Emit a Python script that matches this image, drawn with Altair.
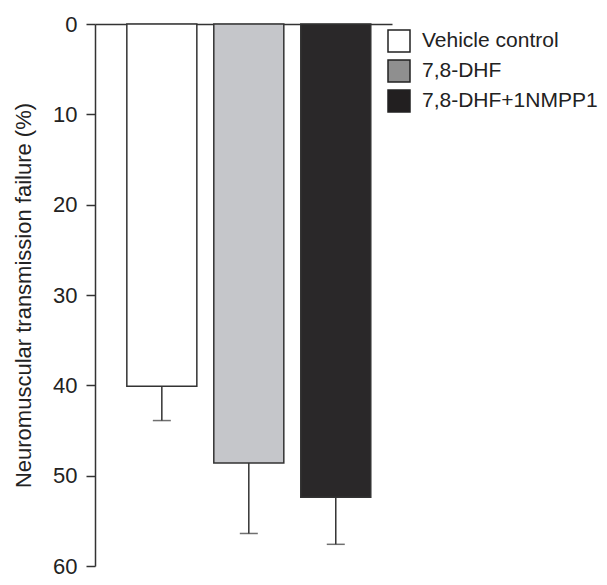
import altair as alt
import pandas as pd

groups = ["Vehicle control", "7,8-DHF", "7,8-DHF+1NMPP1"]
means = [40.1, 48.6, 52.4]
err_top = [43.9, 56.4, 57.6]

bar_fills = ["#ffffff", "#c5c6ca", "#2a2829"]
legend_fills = ["#ffffff", "#8f8f8f", "#221f20"]

df = pd.DataFrame({
    "group": groups,
    "mean": means,
    "err": err_top,
    "fillc": bar_fills,
})

FONT = "Liberation Sans"
DARK = "#333333"

x_enc = alt.X(
    "group:N",
    sort=groups,
    scale=alt.Scale(paddingInner=0.195, paddingOuter=0.305, align=0.6),
    axis=alt.Axis(orient="top", labels=False, ticks=False, title=None,
                  domainColor=DARK, domainWidth=1.5),
)
y_scale = alt.Scale(domain=[0, 60], reverse=True, nice=False, zero=True)
y_axis = alt.Axis(
    values=[0, 10, 20, 30, 40, 50, 60],
    title="Neuromuscular transmission failure (%)",
    titleFont=FONT, titleFontSize=22, titleFontWeight="normal", titleColor="#222222",
    titlePadding=17,
    labelFont=FONT, labelFontSize=22, labelColor="#222222", labelPadding=9,
    tickSize=9, tickColor=DARK, tickWidth=1.5,
    domainColor=DARK, domainWidth=1.5, grid=False,
)

base = alt.Chart(df)

err_rule = base.mark_rule(color=DARK, strokeWidth=1.5).encode(
    x=x_enc,
    y=alt.Y("mean:Q", scale=y_scale, axis=y_axis),
    y2="err:Q",
)
err_cap = base.mark_tick(color=DARK, thickness=1.5, size=18).encode(
    x=x_enc,
    y=alt.Y("err:Q", scale=y_scale),
)
bars = base.mark_bar(stroke=DARK, strokeWidth=1.5).encode(
    x=x_enc,
    y=alt.Y("mean:Q", scale=y_scale, axis=y_axis),
    fill=alt.Fill("fillc:N", scale=None),
)
legend_layer = base.mark_square(opacity=0).encode(
    x=x_enc,
    y=alt.Y("mean:Q", scale=y_scale),
    color=alt.Color(
        "group:N",
        sort=groups,
        scale=alt.Scale(domain=groups, range=legend_fills),
        legend=alt.Legend(
            title=None, orient="none", legendX=292, legendY=5,
            symbolType="square", symbolSize=484, symbolOpacity=1,
            symbolStrokeColor="#222222", symbolStrokeWidth=1.5,
            labelFont=FONT, labelFontSize=21, labelColor="#222222",
            labelOffset=11, rowPadding=2, padding=0, labelLimit=400,
        ),
    ),
)

chart = alt.layer(err_rule, err_cap, bars, legend_layer).properties(
    width=297,
    height=542,
    background="white",
    autosize=alt.AutoSizeParams(type="none"),
    padding={"left": 87, "top": 16, "right": 207, "bottom": 11},
).configure_view(stroke=None)

chart.save("out.html", embed_options={"renderer": "svg", "actions": False})
